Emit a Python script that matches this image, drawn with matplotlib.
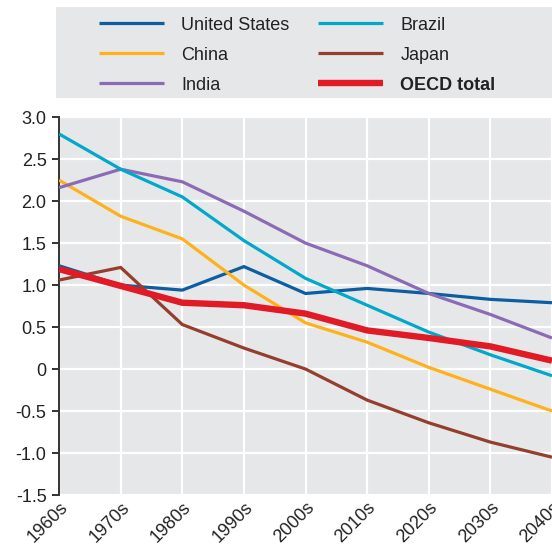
import numpy as np
import matplotlib
matplotlib.use('Agg')
import matplotlib.pyplot as plt

plt.rcParams['font.family'] = ['Liberation Sans', 'DejaVu Sans']

decades = ['1960s', '1970s', '1980s', '1990s', '2000s', '2010s', '2020s', '2030s', '2040s']

united_states = [1.23, 1.00, 0.94, 1.22, 0.90, 0.96, 0.90, 0.83, 0.79]
china = [2.25, 1.82, 1.55, 1.00, 0.55, 0.32, 0.02, -0.24, -0.50]
india = [2.16, 2.38, 2.23, 1.88, 1.50, 1.23, 0.90, 0.65, 0.37]
brazil = [2.80, 2.38, 2.05, 1.53, 1.08, 0.76, 0.44, 0.17, -0.08]
japan = [1.06, 1.21, 0.53, 0.25, 0.00, -0.37, -0.64, -0.87, -1.05]
oecd_total = [1.19, 0.99, 0.79, 0.76, 0.66, 0.46, 0.37, 0.27, 0.10]

yticks = [-1.5, -1.0, -0.5, 0, 0.5, 1.0, 1.5, 2.0, 2.5, 3.0]

bg = '#e6e7e9'
series = [
    ('United States', united_states, '#0b5ea1', 2.3, 'normal'),
    ('China', china, '#ffb11b', 2.3, 'normal'),
    ('India', india, '#8c6bb5', 2.3, 'normal'),
    ('Brazil', brazil, '#00a9cb', 2.3, 'normal'),
    ('Japan', japan, '#953e2d', 2.3, 'normal'),
    ('OECD total', oecd_total, '#e11b26', 4.6, 'bold'),
]

fig = plt.figure(figsize=(5.52, 5.5), dpi=100)
ax = fig.add_axes([0.107, 0.1, 0.893, 0.687])
ax.set_facecolor(bg)

x = np.arange(len(decades))
handles = []
for name, vals, color, lw, _ in series:
    h, = ax.plot(x, vals, color=color, linewidth=lw, solid_capstyle='butt',
                 solid_joinstyle='miter', zorder=3)
    handles.append(h)

ax.set_xlim(0, len(decades) - 1)
ax.set_ylim(-1.5, 3.0)
ax.set_yticks(yticks)
ax.set_yticklabels(['0' if v == 0 else '%.1f' % v for v in yticks])
ax.set_xticks(x)
ax.set_xticklabels(decades, rotation=45, ha='right', rotation_mode='anchor')

ax.grid(True, color='white', linewidth=1.6, zorder=1)
ax.set_axisbelow(True)
for s in ['top', 'right', 'bottom']:
    ax.spines[s].set_visible(False)
ax.spines['left'].set_color('#333333')
ax.spines['left'].set_linewidth(1.4)
ax.tick_params(axis='y', length=5, width=1.4, color='#333333', labelsize=13,
               labelcolor='#222222', pad=4)
ax.tick_params(axis='x', length=0, labelsize=13, labelcolor='#222222', pad=3)

# zero line with upward ticks
sec = ax.secondary_xaxis(0, transform=ax.transData)
sec.set_xticks(x)
sec.tick_params(axis='x', direction='in', length=6, width=1.2, color='#333333',
                labelbottom=False)
sec.spines['bottom'].set_color('#333333')
sec.spines['bottom'].set_linewidth(1.4)

# legend panel
lax = fig.add_axes([0.101, 0.822, 0.899, 0.166])
lax.set_facecolor(bg)
lax.set_xticks([])
lax.set_yticks([])
for s in lax.spines.values():
    s.set_visible(False)
leg = fig.legend(handles, [s[0] for s in series], loc='upper left',
                 bbox_to_anchor=(0.179, 0.970), ncol=2, frameon=False,
                 fontsize=13, handlelength=3.6, handletextpad=0.95,
                 columnspacing=1.6, labelspacing=0.72, borderpad=0,
                 borderaxespad=0)
for t, s in zip(leg.get_texts(), series):
    t.set_color('#222222')
    t.set_fontweight(s[4])

fig.savefig('out.png', dpi=100)
